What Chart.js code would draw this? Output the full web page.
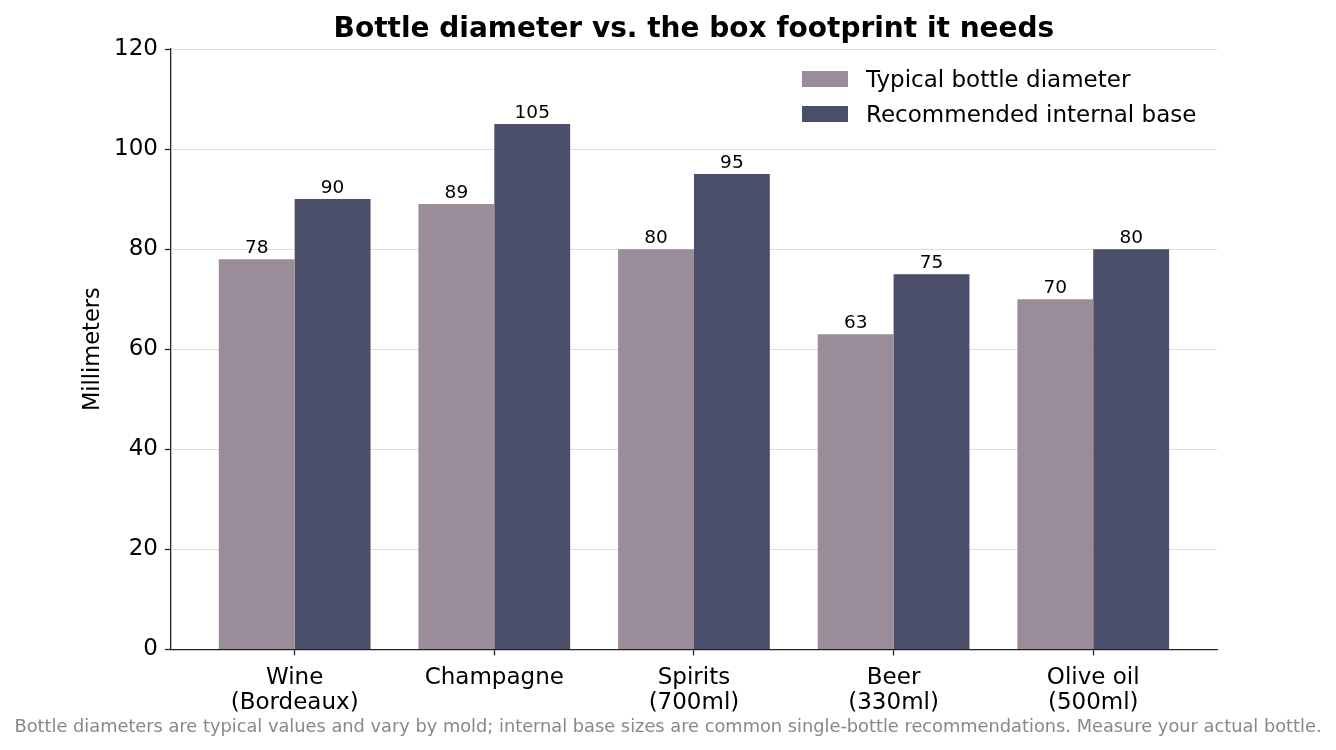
<!DOCTYPE html>
<html>
<head>
<meta charset="utf-8">
<script src="https://cdn.jsdelivr.net/npm/chart.js@4"></script>
<style>
html,body{margin:0;padding:0;background:#fff;}
#wrap{width:1336px;height:750px;position:relative;}
</style>
</head>
<body>
<div id="wrap"><canvas id="c"></canvas></div>
<script>
const categories = [["Wine","(Bordeaux)"],["Champagne"],["Spirits","(700ml)"],["Beer","(330ml)"],["Olive oil","(500ml)"]];
const bottleDiameter = [78, 89, 80, 63, 70];
const internalBase = [90, 105, 95, 75, 80];
const seriesNames = ["Typical bottle diameter", "Recommended internal base"];
const yTicks = [0, 20, 40, 60, 80, 100, 120];
const titleText = "Bottle diameter vs. the box footprint it needs";
const footText = "Bottle diameters are typical values and vary by mold; internal base sizes are common single-bottle recommendations. Measure your actual bottle.";

const colors = ["#9b8c99", "#4a4e69"];
const FONT = "'DejaVu Sans', sans-serif";

const toXY = arr => arr.map((v, i) => ({x: i, y: v}));

const overlay = {
  id: 'overlay',
  afterDatasetsDraw(chart) {
    const ctx = chart.ctx;
    ctx.save();
    ctx.fillStyle = '#000';
    ctx.font = "18.5px " + FONT;
    ctx.textAlign = 'center';
    ctx.textBaseline = 'bottom';
    chart.data.datasets.forEach((ds, di) => {
      const meta = chart.getDatasetMeta(di);
      meta.data.forEach((bar, i) => {
        ctx.fillText(String(ds.data[i].y), bar.x, bar.y - 2);
      });
    });
    ctx.restore();
  },
  afterDraw(chart) {
    const ctx = chart.ctx;
    const ca = chart.chartArea;
    ctx.save();
    // title
    ctx.fillStyle = '#000';
    ctx.font = "bold 28px " + FONT;
    ctx.textAlign = 'center';
    ctx.textBaseline = 'alphabetic';
    ctx.fillText(titleText, (ca.left + ca.right) / 2, 37);
    // footnote
    ctx.fillStyle = '#888';
    ctx.font = "17.8px " + FONT;
    ctx.fillText(footText, chart.width / 2, 732);
    // legend
    ctx.font = "23px " + FONT;
    ctx.textAlign = 'left';
    ctx.textBaseline = 'middle';
    const lx = 802, ly = [79, 114];
    seriesNames.forEach((n, i) => {
      ctx.fillStyle = colors[i];
      ctx.fillRect(lx, ly[i] - 8, 46, 16);
      ctx.fillStyle = '#000';
      ctx.fillText(n, lx + 64, ly[i] + 2);
    });
    ctx.restore();
  }
};

new Chart(document.getElementById('c'), {
  type: 'bar',
  data: {
    datasets: [
      {label: seriesNames[0], data: toXY(bottleDiameter), backgroundColor: colors[0], categoryPercentage: 0.76, barPercentage: 1.0},
      {label: seriesNames[1], data: toXY(internalBase), backgroundColor: colors[1], categoryPercentage: 0.76, barPercentage: 1.0}
    ]
  },
  options: {
    responsive: true,
    maintainAspectRatio: false,
    animation: false,
    devicePixelRatio: 1,
    layout: {padding: {left: 80, right: 119, top: 49, bottom: 24}},
    plugins: {legend: {display: false}, tooltip: {enabled: false}, title: {display: false}},
    scales: {
      x: {
        type: 'linear',
        offset: false,
        min: -0.62,
        max: 4.62,
        afterBuildTicks: axis => { axis.ticks = categories.map((_, i) => ({value: i})); },
        ticks: {
          autoSkip: false,
          maxRotation: 0,
          color: '#000',
          font: {family: FONT, size: 23, lineHeight: 1.1},
          padding: 10,
          callback: v => categories[v]
        },
        grid: {display: true, offset: false, drawOnChartArea: false, drawTicks: true, tickLength: 6, tickColor: '#222', tickWidth: 1.3, color: '#222'},
        border: {display: true, color: '#222', width: 1.3}
      },
      y: {
        min: 0,
        max: 120,
        afterBuildTicks: axis => { axis.ticks = yTicks.map(v => ({value: v})); },
        ticks: {color: '#000', font: {family: FONT, size: 23}, padding: 7},
        grid: {display: true, offset: false, color: '#dddddd', lineWidth: 1, drawTicks: true, tickLength: 6, tickColor: '#222', tickWidth: 1.3},
        border: {display: true, color: '#222', width: 1.3},
        title: {display: true, text: 'Millimeters', color: '#000', font: {family: FONT, size: 22.5}, padding: {top: 0, bottom: 0}}
      }
    }
  },
  plugins: [overlay]
});
</script>
</body>
</html>
